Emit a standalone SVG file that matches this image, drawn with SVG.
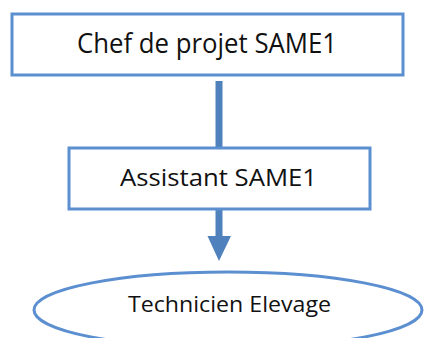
<svg xmlns="http://www.w3.org/2000/svg" width="424" height="338" viewBox="0 0 424 338">
<style>
.box{fill:#fff;stroke:#5B8FD0;stroke-width:3}
.lbl{font-family:"Open Sans","Noto Sans",sans-serif;fill:#111;text-anchor:middle}
.con{stroke:#4F81BD;stroke-width:7;fill:none}
</style>
<rect width="424" height="338" fill="#fff"/>
<g id="connectors">
<line class="con" x1="219" y1="81" x2="219" y2="147"/>
<line class="con" x1="219" y1="209" x2="219" y2="238"/>
<polygon points="207.5,236 231,236 219,261" fill="#4F81BD"/>
</g>
<g id="chef">
<rect class="box" x="12" y="14" width="391" height="61"/>
<text class="lbl" x="207" y="53" font-size="27" textLength="260" lengthAdjust="spacingAndGlyphs">Chef de projet SAME1</text>
</g>
<g id="assistant">
<rect class="box" x="69" y="148" width="301" height="61"/>
<text class="lbl" x="218.5" y="186" font-size="24.5" textLength="197" lengthAdjust="spacingAndGlyphs">Assistant SAME1</text>
</g>
<g id="technicien">
<ellipse class="box" cx="228" cy="310" rx="194" ry="38"/>
<text class="lbl" x="229.5" y="312" font-size="21.5" textLength="203" lengthAdjust="spacingAndGlyphs">Technicien Elevage</text>
</g>
</svg>
